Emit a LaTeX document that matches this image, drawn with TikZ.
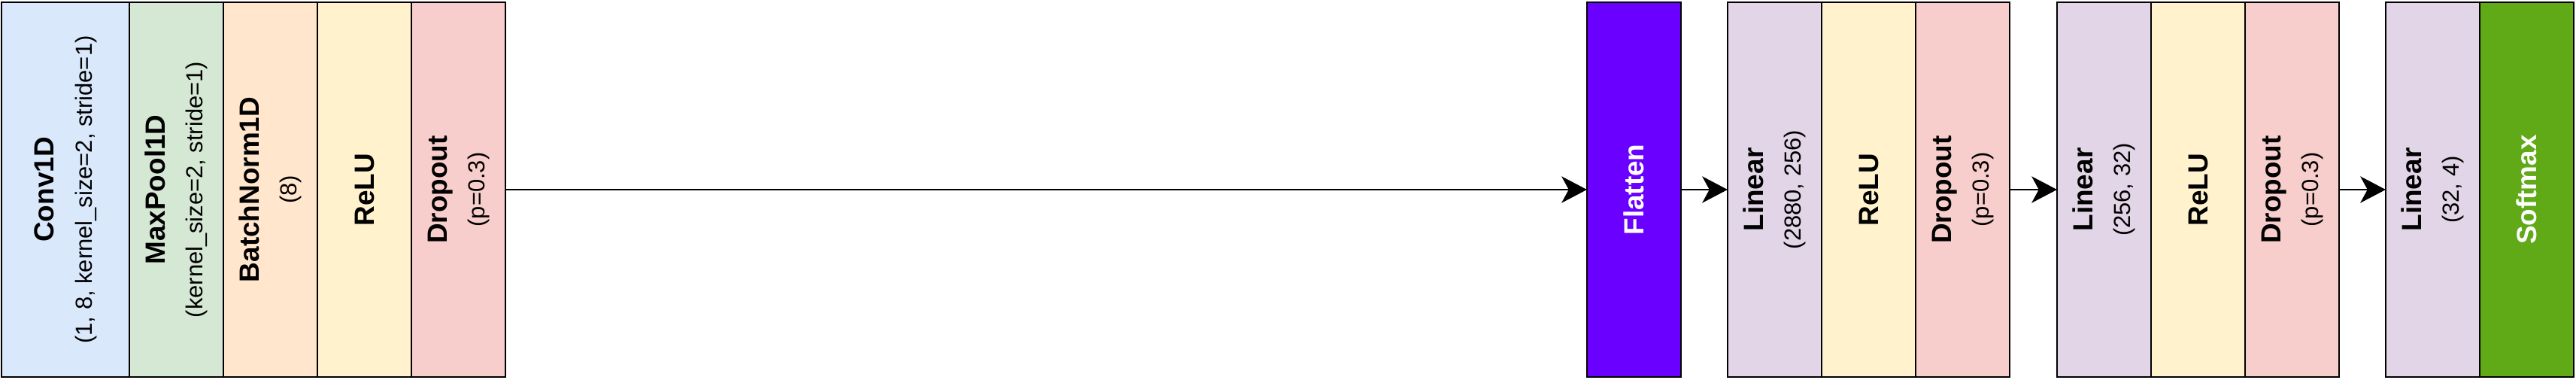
\documentclass[tikz,border=0pt]{standalone}
\usepackage{fontspec}
\setmainfont{Liberation Sans}
\usepackage{xcolor}
\usepackage{tikz}
\usetikzlibrary{positioning,arrows.meta}
\definecolor{convblue}{HTML}{DAE8FC}
\definecolor{poolgreen}{HTML}{D5E8D4}
\definecolor{normorange}{HTML}{FFE6CC}
\definecolor{reluyellow}{HTML}{FFF2CC}
\definecolor{dropred}{HTML}{F8CECC}
\definecolor{linpurple}{HTML}{E1D5E7}
\definecolor{flatviolet}{HTML}{6A00FF}
\definecolor{softgreen}{HTML}{60A917}
\newcommand{\lyr}[2]{%
  \rotatebox{90}{\fontsize{10.5pt}{14.4pt}\selectfont
    \begin{tabular}{@{}c@{}}
      \textbf{#1}\\
      {\fontsize{8.8pt}{10pt}\selectfont #2}
    \end{tabular}}%
}
\newcommand{\lyrone}[1]{%
  \rotatebox{90}{\fontsize{10.5pt}{12pt}\selectfont\textbf{#1}}%
}

\begin{document}
\begin{tikzpicture}[
  layer/.style={draw=black, line width=0.8pt, minimum height=4.98cm, minimum width=1.25cm,
                inner sep=0pt, outer sep=0pt, align=center},
  flow/.style={-{Stealth[length=9.6pt, width=10pt, inset=2.7pt]}, line width=0.8pt},
]
\useasboundingbox (0,0) rectangle (34.25,5.04);

% ---------------- conv block ----------------
\node[layer, fill=convblue, minimum width=1.7cm] (conv) at (0.87,2.52) {\lyr{Conv1D}{(1, 8, kernel\_size=2, stride=1)}};
\node[layer, fill=poolgreen, right=0pt of conv]   (pool)  {\lyr{MaxPool1D}{(kernel\_size=2, stride=1)}};
\node[layer, fill=normorange, right=0pt of pool]  (norm)  {\lyr{BatchNorm1D}{(8)}};
\node[layer, fill=reluyellow, right=0pt of norm]  (relu1) {\lyrone{ReLU}};
\node[layer, fill=dropred, right=0pt of relu1]    (drop1) {\lyr{Dropout}{(p=0.3)}};

% ---------------- flatten ----------------
\node[layer, fill=flatviolet, text=white, right=14.38cm of drop1] (flat) {\lyrone{Flatten}};

% ---------------- dense blocks ----------------
\node[layer, fill=linpurple, right=0.62cm of flat] (lin1)  {\lyr{Linear}{(2880, 256)}};
\node[layer, fill=reluyellow, right=0pt of lin1]   (relu2) {\lyrone{ReLU}};
\node[layer, fill=dropred, right=0pt of relu2]     (drop2) {\lyr{Dropout}{(p=0.3)}};

\node[layer, fill=linpurple, right=0.63cm of drop2] (lin2)  {\lyr{Linear}{(256, 32)}};
\node[layer, fill=reluyellow, right=0pt of lin2]    (relu3) {\lyrone{ReLU}};
\node[layer, fill=dropred, right=0pt of relu3]      (drop3) {\lyr{Dropout}{(p=0.3)}};

\node[layer, fill=linpurple, right=0.62cm of drop3] (lin3) {\lyr{Linear}{(32, 4)}};
\node[layer, fill=softgreen, text=white, right=0pt of lin3] (soft) {\lyrone{Softmax}};

% ---------------- connectors ----------------
\draw[flow] (drop1) -- (flat);
\draw[flow] (flat) -- (lin1);
\draw[flow] (drop2) -- (lin2);
\draw[flow] (drop3) -- (lin3);
\end{tikzpicture}
\end{document}
